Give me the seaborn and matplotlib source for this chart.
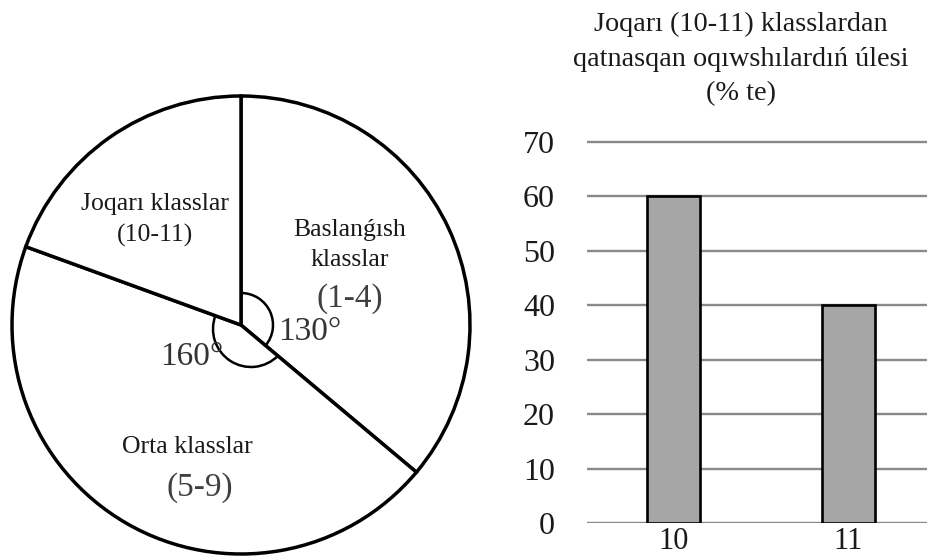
import numpy as np
import pandas as pd
import matplotlib
matplotlib.use("Agg")
import matplotlib.pyplot as plt
from matplotlib.patches import Arc
import seaborn as sns

# Pie: share of school stages, in degrees
stages = ["Baslanǵısh\nklasslar", "Orta klasslar", "Joqarı klasslar\n(10-11)"]
stage_ranges = ["(1-4)", "(5-9)", ""]
stage_degrees = [130, 160, 70]

# Bars: share of senior-class participants by grade, %
grades = ["10", "11"]
shares = [60, 40]
y_ticks = [0, 10, 20, 30, 40, 50, 60, 70]

bar_title = "Joqarı (10-11) klasslardan\nqatnasqan oqıwshılardıń úlesi\n(% te)"

sns.set_theme(style="white")
plt.rcParams["font.family"] = ["Liberation Serif", "DejaVu Serif"]

W, H = 928, 556
fig = plt.figure(figsize=(W / 100, H / 100), dpi=100)
fig.patch.set_facecolor("white")

# ---------- pie (axes in pixel units, y upward) ----------
axp = fig.add_axes([0, 0, 480 / W, 1])
cx, cy, R = 241, H - 325, 229
axp.pie(stage_degrees, startangle=90, counterclock=False,
        center=(cx, cy), radius=R, frame=True,
        colors=["white"] * 3,
        wedgeprops=dict(edgecolor="black", linewidth=2.5))
axp.set_xlim(0, 480)
axp.set_ylim(0, H)
axp.set_aspect("auto")
axp.axis("off")

# boundary angles of the wedges
a0 = 90
a1 = a0 - stage_degrees[0]
a2 = a1 - stage_degrees[1]

# angle mark for the first wedge
axp.add_patch(Arc((cx, cy), 64, 64, theta1=a1, theta2=a0,
                  color="black", lw=1.8))

# angle mark for the second wedge (offset circle, clipped to its radii)
ox, oy, r2 = cx + 10, cy - 4, 38
def hit(angle):
    d = np.array([np.cos(np.radians(angle)), np.sin(np.radians(angle))])
    o = np.array([cx - ox, cy - oy])
    b = 2 * o.dot(d)
    c = o.dot(o) - r2 ** 2
    t = (-b + np.sqrt(b * b - 4 * c)) / 2
    p = o + t * d
    return np.degrees(np.arctan2(p[1], p[0])) % 360
axp.add_patch(Arc((ox, oy), 2 * r2, 2 * r2, theta1=hit(a2 + 360), theta2=hit(a1),
                  color="black", lw=1.8))

lab = dict(ha="center", va="center", color="#1a1a1a", fontsize=18.5)
axp.text(155, H - 220, stages[2], linespacing=1.46, **lab)
axp.text(350, H - 245, stages[0], linespacing=1.46, **lab)
axp.text(350, H - 299, stage_ranges[0], ha="center", va="center",
         color="#404040", fontsize=24)
axp.text(187, H - 447, stages[1], **lab)
axp.text(200, H - 488, stage_ranges[1], ha="center", va="center",
         color="#404040", fontsize=24)
axp.text(310, H - 332, f"{stage_degrees[0]}°", ha="center", va="center",
         color="#333333", fontsize=24)
axp.text(192, H - 357, f"{stage_degrees[1]}°", ha="center", va="center",
         color="#333333", fontsize=24)

# ---------- bar chart ----------
unit = 5.443          # pixels per percentage point
y0 = 523
axb = fig.add_axes([587 / W, (H - y0) / H, (W - 587) / W, 71 * unit / H])
df = pd.DataFrame({"grade": grades, "share": shares})
sns.barplot(data=df, x="grade", y="share", color="#a6a6a6", saturation=1,
            edgecolor="black", linewidth=1.9, width=0.304, ax=axb, zorder=3)
axb.set_xlim(-0.496, 1.458)
axb.set_ylim(0, 71)
axb.set_yticks(y_ticks)
axb.set_xlabel("")
axb.set_ylabel("")
for s in axb.spines.values():
    s.set_visible(False)
axb.yaxis.grid(True, color="#8a8a8a", linewidth=1.7)
axb.xaxis.grid(False)
axb.set_axisbelow(True)
axb.tick_params(axis="y", length=0, pad=23, labelsize=23, labelcolor="#1a1a1a")
axb.tick_params(axis="x", length=0, pad=3, labelsize=22, labelcolor="#1a1a1a")
axb.patch.set_alpha(0)

fig.text(741 / W, 1 - 59 / H, bar_title, ha="center", va="center",
         fontsize=20.3, linespacing=1.5, color="#1a1a1a")

fig.savefig("out.png", dpi=100, facecolor="white")
